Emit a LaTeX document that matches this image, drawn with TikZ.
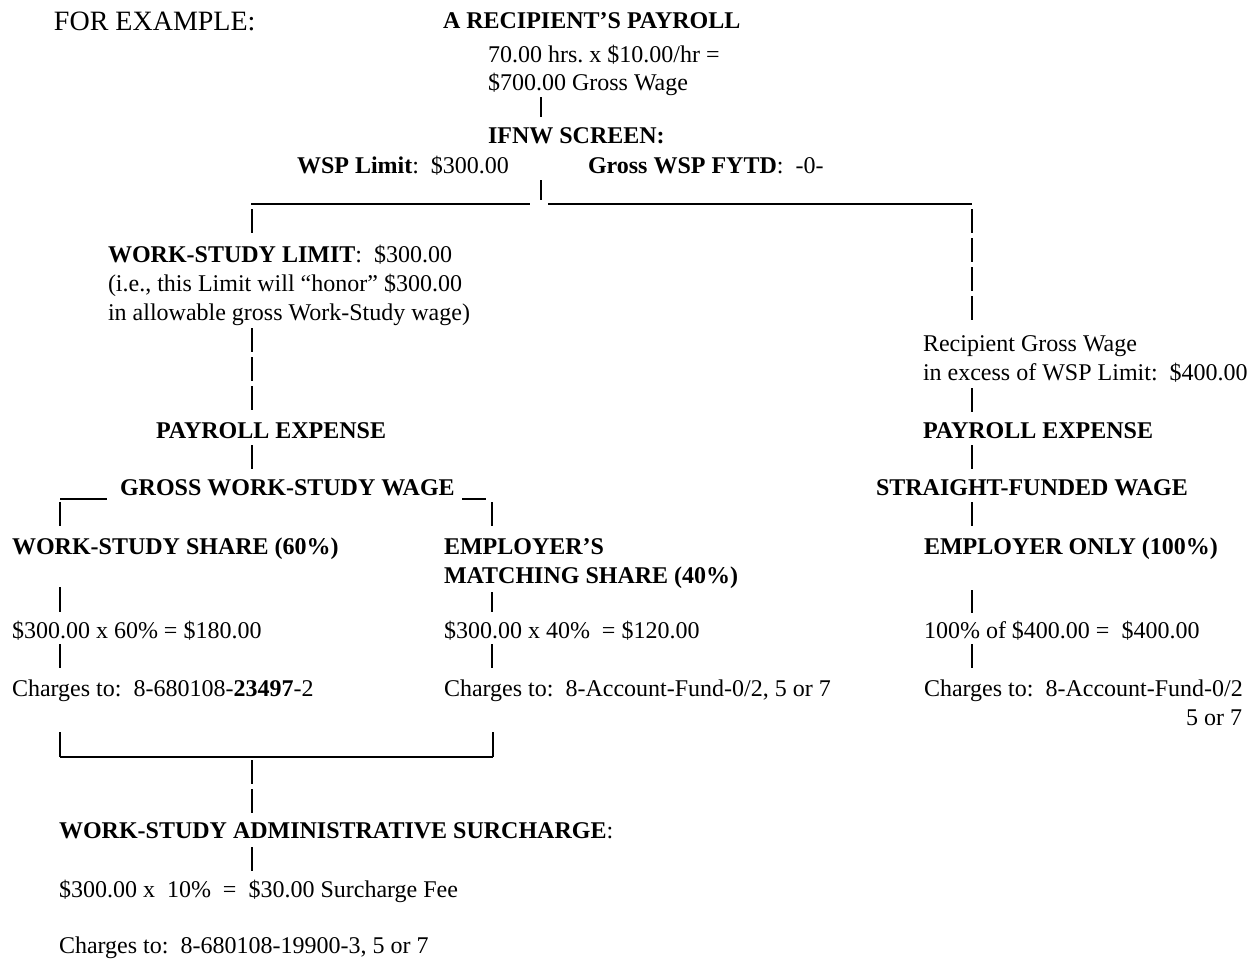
\documentclass[tikz,border=0pt]{standalone}
\usepackage{fontspec}
\setmainfont{Liberation Serif}
\usetikzlibrary{calc}
\frenchspacing
\begin{document}
\begin{tikzpicture}[x=0.5pt,y=-0.5pt,
  txt/.style={anchor=base west,inner sep=0pt,outer sep=0pt,font=\fontsize{12}{14}\selectfont},
  hdr/.style={txt,font=\fontsize{12}{14}\selectfont\bfseries},
  bar/.style={line width=0.6pt},
  stackbar/.style={bar,dash pattern=on 12pt off 2.5pt},
  thickbar/.style={line width=1.3pt},
  rule/.style={line width=0.6pt},
  boldrule/.style={line width=1.2pt}]
\fill[white] (0,0) rectangle (1257,958);
\useasboundingbox (0,0) rectangle (1257,958);
% columns
\coordinate (cA) at (541,0);
\coordinate (cL) at (252,0);
\coordinate (cR) at (972,0);
\coordinate (c1) at (60,0);
\coordinate (c2) at (492,0);
% texts
\node[txt,font=\fontsize{14}{16}\selectfont] (ex) at (54,31) {FOR EXAMPLE:};
\node[hdr] (t1) at (443,28) {A RECIPIENT’S PAYROLL};
\node[txt] (t2) at (488,62) {70.00 hrs. x \$10.00/hr =};
\node[txt] (t3) at (488,90) {\$700.00 Gross Wage};
\node[hdr] (ifnw) at (488,143) {IFNW SCREEN:};
\node[txt] (wsp) at (297,173) {\textbf{WSP Limit}:\ \ \$300.00};
\node[txt] (gwsp) at (588,173) {\textbf{Gross WSP FYTD}:\ \ -0-};
\node[txt] (wsl) at (108,262) {\textbf{WORK-STUDY LIMIT}:\ \ \$300.00};
\node[txt] (ie) at (108,291) {(i.e., this Limit will “honor” \$300.00};
\node[txt] (allow) at (108,320) {in allowable gross Work-Study wage)};
\node[txt] (rec1) at (923,351) {Recipient Gross Wage};
\node[txt] (rec2) at (923,380) {in excess of WSP Limit:\ \ \$400.00};
\node[hdr] (peL) at (156,438) {PAYROLL EXPENSE};
\node[hdr] (peR) at (923,438) {PAYROLL EXPENSE};
\node[hdr] (gww) at (120,495) {GROSS WORK-STUDY WAGE};
\node[hdr] (sfw) at (876,495) {STRAIGHT-FUNDED WAGE};
\node[hdr] (wss) at (12,554) {WORK-STUDY SHARE (60\%)};
\node[hdr] (emp1) at (444,554) {EMPLOYER’S};
\node[hdr] (emp2) at (444,583) {MATCHING SHARE (40\%)};
\node[hdr] (eon) at (924,554) {EMPLOYER ONLY (100\%)};
\node[txt] (c60) at (12,638) {\$300.00 x 60\% = \$180.00};
\node[txt] (c40) at (444,638) {\$300.00 x 40\%\ \ = \$120.00};
\node[txt] (c100) at (924,638) {100\% of \$400.00 =\ \ \$400.00};
\node[txt] (ch1) at (12,696) {Charges to:\ \ 8-680108-\textbf{23497}-2};
\node[txt] (ch2) at (444,696) {Charges to:\ \ 8-Account-Fund-0/2, 5 or 7};
\node[txt] (ch3) at (924,696) {Charges to:\ \ 8-Account-Fund-0/2};
\node[txt,anchor=base east] (ch3b) at (1242,725) {5 or 7};
\node[txt] (adm) at (59,838) {\textbf{WORK-STUDY ADMINISTRATIVE SURCHARGE}:};
\node[txt] (fee) at (59,897) {\$300.00 x\ \ 10\%\ \ =\ \ \$30.00 Surcharge Fee};
\node[txt] (ch4) at (59,953) {Charges to:\ \ 8-680108-19900-3, 5 or 7};
% junction coordinates
\coordinate (tL) at (251,204);
\coordinate (tM1) at (530,204);
\coordinate (tM) at (541,204);
\coordinate (tM2) at (548,204);
\coordinate (tR) at (972,204);
\coordinate (gL1) at (60,499);
\coordinate (gL2) at (107,499);
\coordinate (gR1) at (462,499);
\coordinate (gR2) at (486,499);
\coordinate (bk1) at (60,757);
\coordinate (bk2) at (493,757);
\coordinate (bkM) at (252,757);
% connectors
\draw[bar] ($(t3.base -| cA)+(0,7)$) -- ($(ifnw.base -| cA)+(0,-26)$);
\draw[thickbar] ($(wsp.base -| cA)+(0,7)$) -- ($(tM)+(0,-4)$);
\draw[rule] (tL) -- (tM1);
\draw[rule] (tM2) -- (tR);
\draw[bar] ($(tL -| cL)+(0,5)$) -- ($(wsl.base -| cL)+(0,-29)$);
\draw[stackbar] ($(tR)+(0,5)$) -- ($(rec1.base -| cR)+(0,-31)$);
\draw[stackbar] ($(allow.base -| cL)+(0,8)$) -- ($(peL.base -| cL)+(0,-28)$);
\draw[bar] ($(rec2.base -| cR)+(0,8)$) -- ($(peR.base -| cR)+(0,-26)$);
\draw[bar] ($(peL.base -| cL)+(0,7)$) -- ($(gww.base -| cL)+(0,-26)$);
\draw[bar] ($(peR.base -| cR)+(0,7)$) -- ($(sfw.base -| cR)+(0,-26)$);
\draw[rule] (gL1) -- (gL2);
\draw[rule] (gR1) -- (gR2);
\draw[bar] ($(gL1)+(0,3)$) -- ($(wss.base -| c1)+(0,-28)$);
\draw[bar] ($(gR2 -| c2)+(0,3)$) -- ($(emp1.base -| c2)+(0,-28)$);
\draw[bar] ($(sfw.base -| cR)+(0,7)$) -- ($(eon.base -| cR)+(0,-28)$);
\draw[bar] ($(wss.base -| c1)+(0,33)$) -- ($(c60.base -| c1)+(0,-26)$);
\draw[bar] ($(emp2.base -| c2)+(0,9)$) -- ($(c40.base -| c2)+(0,-26)$);
\draw[bar] ($(eon.base -| cR)+(0,36)$) -- ($(c100.base -| cR)+(0,-25)$);
\draw[bar] ($(c60.base -| c1)+(0,6)$) -- ($(ch1.base -| c1)+(0,-28)$);
\draw[bar] ($(c40.base -| c2)+(0,6)$) -- ($(ch2.base -| c2)+(0,-28)$);
\draw[bar] ($(c100.base -| cR)+(0,6)$) -- ($(ch3.base -| cR)+(0,-28)$);
\draw[bar] ($(ch1.base -| c1)+(0,36)$) -- (bk1);
\draw[bar] ($(ch2.base -| bk2)+(0,36)$) -- (bk2);
\draw[boldrule] (bk1) -- (bk2);
\draw[stackbar] ($(bkM)+(0,3)$) -- ($(adm.base -| cL)+(0,-25)$);
\draw[bar] ($(adm.base -| cL)+(0,9)$) -- ($(fee.base -| cL)+(0,-26)$);
\end{tikzpicture}
\end{document}
